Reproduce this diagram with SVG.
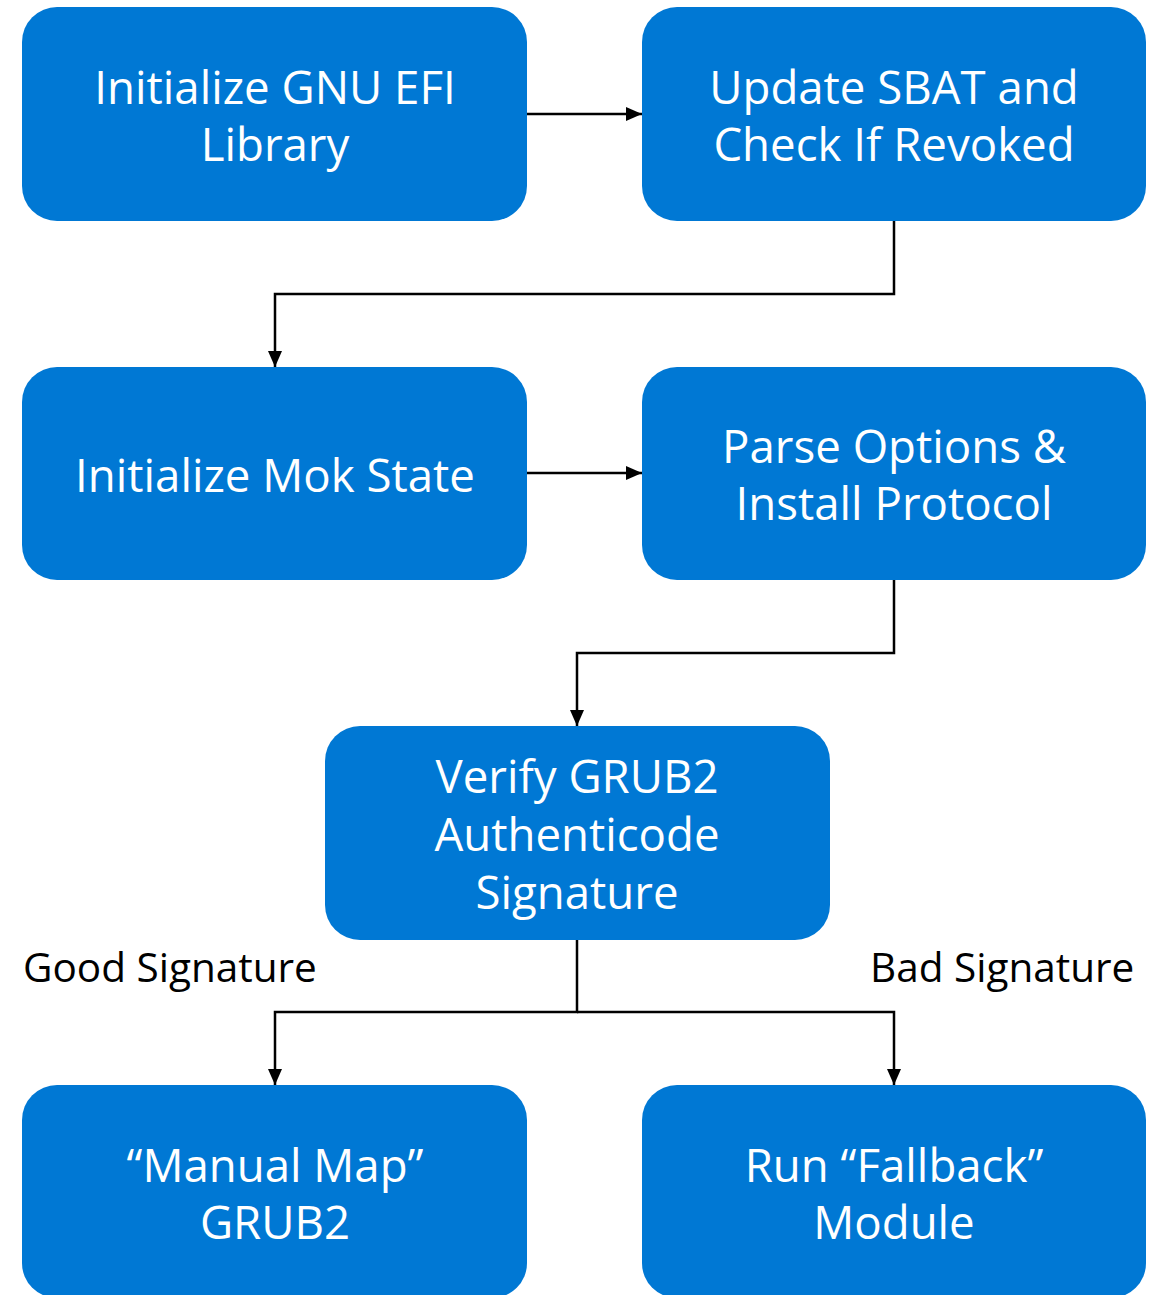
<svg xmlns="http://www.w3.org/2000/svg" width="1153" height="1295" viewBox="0 0 1153 1295">
<style>
.box{fill:#0078D4;}
.t{font-family:"Open Sans","Noto Sans",sans-serif;font-size:45.6px;fill:#fff;text-anchor:middle;}
.lbl{font-family:"Open Sans","Noto Sans",sans-serif;font-size:40.5px;fill:#000;}
.c{fill:none;stroke:#000;stroke-width:2.5;}
</style>
<defs>
<marker id="ah" markerWidth="16" markerHeight="14" refX="16" refY="7" orient="auto" markerUnits="userSpaceOnUse">
<path d="M0,0 L16,7 L0,14 Z" fill="#000"/>
</marker>
</defs>
<rect width="1153" height="1295" fill="#fff"/>
<g id="n1"><rect class="box" x="22" y="7" width="505" height="214" rx="35"/>
<text class="t" x="275" y="104">Initialize GNU EFI</text><text class="t" x="275" y="161">Library</text></g>
<g id="n2"><rect class="box" x="642" y="7" width="504" height="214" rx="35"/>
<text class="t" x="894" y="104">Update SBAT and</text><text class="t" x="894" y="161">Check If Revoked</text></g>
<g id="n3"><rect class="box" x="22" y="367" width="505" height="213" rx="35"/>
<text class="t" x="275" y="492">Initialize Mok State</text></g>
<g id="n4"><rect class="box" x="642" y="367" width="504" height="213" rx="35"/>
<text class="t" x="894" y="463">Parse Options &amp;</text><text class="t" x="894" y="520">Install Protocol</text></g>
<g id="n5"><rect class="box" x="325" y="726" width="505" height="214" rx="35"/>
<text class="t" x="577" y="793">Verify GRUB2</text><text class="t" x="577" y="851">Authenticode</text><text class="t" x="577" y="909">Signature</text></g>
<g id="n6"><rect class="box" x="22" y="1085" width="505" height="213" rx="35"/>
<text class="t" x="275" y="1182">“Manual Map”</text><text class="t" x="275" y="1239">GRUB2</text></g>
<g id="n7"><rect class="box" x="642" y="1085" width="504" height="213" rx="35"/>
<text class="t" x="894" y="1182">Run “Fallback”</text><text class="t" x="894" y="1239">Module</text></g>
<g id="labels">
<text class="lbl" x="23" y="982">Good Signature</text>
<text class="lbl" x="870" y="982">Bad Signature</text>
</g>
<g id="connectors">
<path class="c" d="M527,114 H642" marker-end="url(#ah)"/>
<path class="c" d="M894,221 V294 H275 V367" marker-end="url(#ah)"/>
<path class="c" d="M527,473 H642" marker-end="url(#ah)"/>
<path class="c" d="M894,580 V653 H577 V726" marker-end="url(#ah)"/>
<path class="c" d="M577,940 V1012 H275 V1085" marker-end="url(#ah)"/>
<path class="c" d="M577,1012 H894 V1085" marker-end="url(#ah)"/>
</g>
</svg>
